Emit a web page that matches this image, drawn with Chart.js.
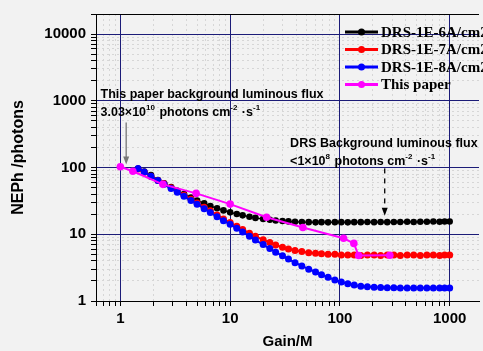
<!DOCTYPE html>
<html lang="en">
<head>
<meta charset="UTF-8">
<title>NEPh vs Gain</title>
<script src="https://cdn.jsdelivr.net/npm/chart.js"></script>
<style>
  body { margin: 0; background: #f2f2f2; }
  canvas { display: block; }
</style>
</head>
<body>
<canvas id="nephChart" width="483" height="351"></canvas>
<script>
// gain values shared by the three DRS curves
const gains = [1.45, 1.65, 1.9, 2.2, 2.5, 2.9, 3.3, 3.8, 4.4, 5.0,
  5.8, 6.6, 7.6, 8.7, 10, 11.5, 13, 15, 17, 20,
  23, 26, 30, 34, 39, 45, 52, 60, 68, 78,
  90, 103, 118, 135, 155, 178, 205, 235, 270, 310,
  355, 410, 470, 540, 620, 710, 810, 900, 1000];

const drs6 = [96, 87, 77, 65, 58, 51, 45, 40, 35.5, 32,
  29, 26.5, 24.5, 22.8, 21.3, 20.1, 19.2, 18.3, 17.6, 17.0,
  16.5, 16.1, 15.8, 15.6, 15.4, 15.3, 15.2, 15.1, 15.2, 15.1,
  15.2, 15.2, 15.1, 15.2, 15.2, 15.3, 15.2, 15.3, 15.2, 15.3,
  15.3, 15.4, 15.3, 15.4, 15.4, 15.5, 15.4, 15.5, 15.5];

const drs7 = [95, 85, 74, 64, 57, 50, 44, 38.5, 33.5, 29.5,
  25.5, 22.5, 19.5, 17, 15, 13.2, 11.8, 10.4, 9.3, 8.3,
  7.5, 6.9, 6.4, 6.0, 5.7, 5.5, 5.3, 5.2, 5.1, 5.0,
  5.0, 4.9, 4.9, 4.9, 4.8, 4.9, 4.9, 4.8, 4.9, 4.9,
  4.8, 4.9, 4.9, 4.8, 4.9, 4.9, 4.8, 4.9, 4.9];

const drs8 = [97, 86, 74, 64, 56, 48.5, 42.5, 37, 32, 28.2,
  24.2, 21.2, 18.3, 16.0, 14.1, 12.3, 10.8, 9.3, 8.2, 7.0,
  6.1, 5.4, 4.75, 4.25, 3.75, 3.35, 3.0, 2.72, 2.48, 2.26,
  2.07, 1.93, 1.81, 1.73, 1.67, 1.63, 1.61, 1.6, 1.58, 1.58,
  1.57, 1.57, 1.56, 1.57, 1.56, 1.56, 1.57, 1.56, 1.56];

const paperGain = [1, 1.3, 2.44, 4.9, 10, 21.5, 46, 108, 134, 148, 285];
const paperNeph = [103, 88, 56, 41, 28.3, 18, 12.6, 8.7, 7.3, 4.8, 4.85];

const xTickLabels = ['1', '10', '100', '1000'];
const yTickLabels = ['1', '10', '100', '1000', '10000'];

const sans = 'Arial, "Liberation Sans", sans-serif';
const serif = '"Times New Roman", "Liberation Serif", serif';

function isDecade(v) {
  if (!v) return false;
  const l = Math.log10(v);
  return Math.abs(l - Math.round(l)) < 1e-6;
}

// 1..9 x 10^n inside the axis range
function logTicks(min, max) {
  const out = [];
  for (let e = Math.floor(Math.log10(min)); e <= Math.ceil(Math.log10(max)); e++) {
    for (let m = 1; m <= 9; m++) {
      const v = m * Math.pow(10, e);
      if (v >= min && v <= max) out.push({ value: v });
    }
  }
  return out;
}

function pts(xs, ys) {
  return xs.map((x, i) => ({ x: x, y: ys[i] }));
}

// text with superscripts: parts = [[text, isSup], ...]
function drawRich(ctx, x, y, parts) {
  let cx = x;
  parts.forEach(p => {
    ctx.font = p[1] ? 'bold 8px ' + sans : 'bold 12.5px ' + sans;
    ctx.fillText(p[0], cx, p[1] ? y - 5 : y);
    cx += ctx.measureText(p[0]).width + (p[1] ? 1 : 0);
  });
}

function arrow(ctx, x, y0, y1, color, dash) {
  ctx.save();
  ctx.strokeStyle = color;
  ctx.fillStyle = color;
  ctx.lineWidth = 1.3;
  ctx.setLineDash(dash);
  ctx.beginPath();
  ctx.moveTo(x, y0);
  ctx.lineTo(x, y1 - 6);
  ctx.stroke();
  ctx.setLineDash([]);
  ctx.beginPath();
  ctx.moveTo(x, y1);
  ctx.lineTo(x - 3, y1 - 8);
  ctx.lineTo(x + 3, y1 - 8);
  ctx.closePath();
  ctx.fill();
  ctx.restore();
}

const notesPlugin = {
  id: 'notes',
  afterDatasetsDraw(chart) {
    const { ctx, chartArea, scales: { x, y } } = chart;
    ctx.save();
    // top frame line
    ctx.strokeStyle = '#000';
    ctx.lineWidth = 1;
    ctx.beginPath();
    ctx.moveTo(chartArea.left, chartArea.top + 0.5);
    ctx.lineTo(chartArea.right, chartArea.top + 0.5);
    ctx.stroke();

    ctx.fillStyle = '#000';
    ctx.textBaseline = 'middle';
    ctx.textAlign = 'left';
    ctx.font = 'bold 12.5px ' + sans;
    ctx.fillText('This paper background luminous flux', x.getPixelForValue(0.66), y.getPixelForValue(1225));
    drawRich(ctx, x.getPixelForValue(0.66), y.getPixelForValue(667),
      [['3.03×10', false], ['10', true], [' photons cm', false], ['-2', true], [' ·s', false], ['-1', true]]);
    arrow(ctx, x.getPixelForValue(1.13), y.getPixelForValue(474), y.getPixelForValue(111), '#777', []);

    ctx.font = 'bold 12.5px ' + sans;
    ctx.fillText('DRS Background luminous flux', x.getPixelForValue(35.2), y.getPixelForValue(225));
    drawRich(ctx, x.getPixelForValue(35.2), y.getPixelForValue(122),
      [['<1×10', false], ['8', true], [' photons cm', false], ['-2', true], [' ·s', false], ['-1', true]]);
    arrow(ctx, x.getPixelForValue(256), y.getPixelForValue(97), y.getPixelForValue(19), '#000', [5, 5]);

    // legend
    const lx = chartArea.left + 249;
    chart.data.datasets.forEach((ds, i) => {
      const ly = chartArea.top + 18 + i * 17.5;
      ctx.strokeStyle = ds.borderColor;
      ctx.lineWidth = 3;
      ctx.beginPath();
      ctx.moveTo(lx, ly);
      ctx.lineTo(lx + 33, ly);
      ctx.stroke();
      ctx.fillStyle = ds.borderColor;
      ctx.beginPath();
      ctx.arc(lx + 16.5, ly, 3.5, 0, Math.PI * 2);
      ctx.fill();
      ctx.fillStyle = '#000';
      ctx.font = 'bold 15px ' + serif;
      ctx.fillText(ds.label, lx + 36, ly + 1);
    });
    ctx.restore();
  }
};

const ctx = document.getElementById('nephChart').getContext('2d');

new Chart(ctx, {
  type: 'line',
  data: {
    datasets: [
      { label: 'DRS-1E-6A/cm2', data: pts(gains, drs6), borderColor: '#000000', backgroundColor: '#000000',
        borderWidth: 1.5, pointRadius: 3.3, pointBorderWidth: 0, order: 3 },
      { label: 'DRS-1E-7A/cm2', data: pts(gains, drs7), borderColor: '#ff0000', backgroundColor: '#ff0000',
        borderWidth: 2, pointRadius: 3.5, pointBorderWidth: 0, order: 2 },
      { label: 'DRS-1E-8A/cm2', data: pts(gains, drs8), borderColor: '#0000ff', backgroundColor: '#0000ff',
        borderWidth: 2, pointRadius: 3.5, pointBorderWidth: 0, order: 1 },
      { label: 'This paper', data: pts(paperGain, paperNeph), borderColor: '#ff00ff', backgroundColor: '#ff00ff',
        borderWidth: 2, pointRadius: 3.8, pointBorderWidth: 0, order: 0 }
    ]
  },
  options: {
    responsive: false,
    animation: false,
    layout: { padding: { top: 11, right: 0, left: 0, bottom: 0 } },
    plugins: { legend: { display: false }, tooltip: { enabled: false } },
    scales: {
      x: {
        type: 'logarithmic',
        min: 0.61,
        max: 1850,
        afterBuildTicks: s => { s.ticks = logTicks(s.min, s.max); },
        afterFit: s => { s.height = 50; },
        grid: {
          color: c => isDecade(c.tick && c.tick.value) ? '#1c1c78' : '#d6d6d6',
          lineWidth: 1,
          tickColor: '#000',
          tickLength: 5
        },
        border: { color: '#000', width: 1, dash: c => (c.tick && !isDecade(c.tick.value)) ? [2, 3] : [] },
        ticks: {
          autoSkip: false,
          maxRotation: 0,
          color: '#000',
          padding: 4,
          font: { family: sans, weight: 'bold', size: 15 },
          callback: v => xTickLabels.includes(String(v)) ? String(v) : ''
        },
        title: { display: true, text: 'Gain/M', color: '#000', padding: { top: 0, bottom: 0 },
          font: { family: sans, weight: 'bold', size: 15 } }
      },
      y: {
        type: 'logarithmic',
        min: 1,
        max: 20000,
        afterBuildTicks: s => { s.ticks = logTicks(s.min, s.max); },
        afterFit: s => { s.width = 96; },
        grid: {
          color: c => isDecade(c.tick && c.tick.value) ? '#1c1c78' : '#d6d6d6',
          lineWidth: 1,
          tickColor: '#000',
          tickLength: 5
        },
        border: { color: '#000', width: 1, dash: c => (c.tick && !isDecade(c.tick.value)) ? [2, 3] : [] },
        ticks: {
          autoSkip: false,
          color: '#000',
          padding: 5,
          font: { family: sans, weight: 'bold', size: 15 },
          callback: v => yTickLabels.includes(String(v)) ? String(v) : ''
        },
        title: { display: true, text: 'NEPh /photons', color: '#000', padding: { top: 9, bottom: 0 },
          font: { family: sans, weight: 'bold', size: 16 } }
      }
    }
  },
  plugins: [notesPlugin]
});
</script>
</body>
</html>
